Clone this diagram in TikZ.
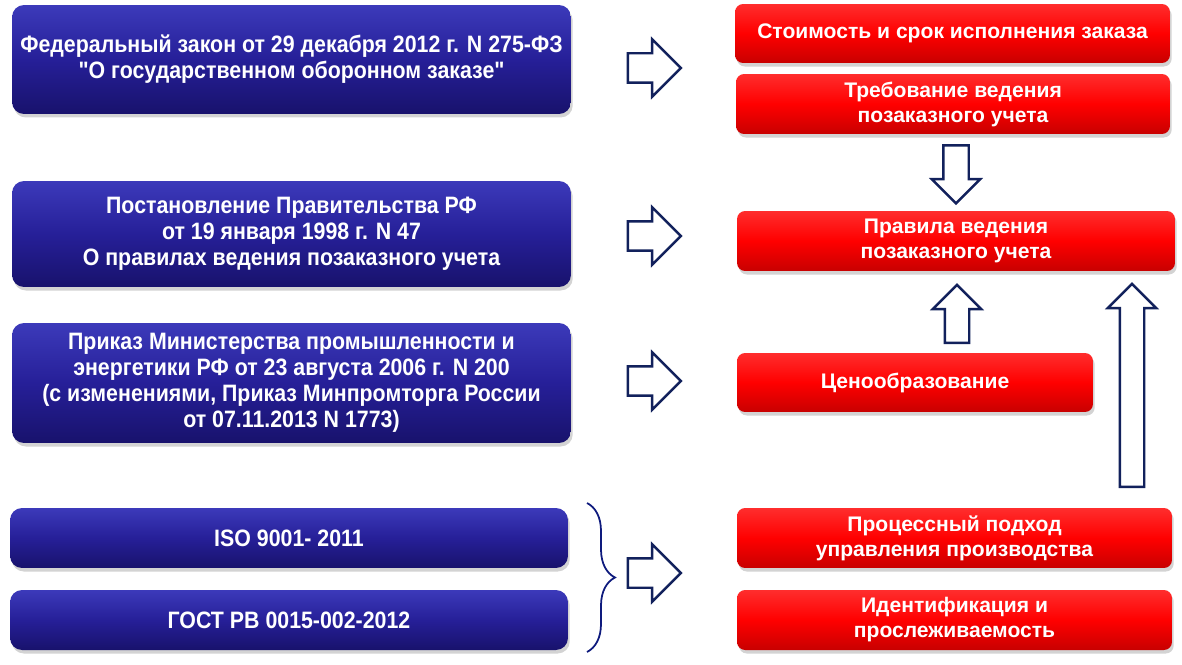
\documentclass[tikz,border=0pt]{standalone}
\usepackage{fontspec}
\setmainfont{Liberation Sans}
\newfontfamily\narrowfont{Liberation Sans}[FakeStretch=0.9]
\usetikzlibrary{shapes.arrows,shadows,decorations.pathreplacing}
\definecolor{navy}{RGB}{18,33,92}
\definecolor{lawtop}{RGB}{60,58,186}
\definecolor{lawmid}{RGB}{38,31,152}
\definecolor{lawbot}{RGB}{24,18,108}
\definecolor{restop}{RGB}{255,45,45}
\definecolor{resbot}{RGB}{200,0,0}
\tikzset{
  lawbox/.style={rounded corners=0.24cm, top color=lawtop, bottom color=lawbot,
    middle color=lawmid, text=white, align=center, inner sep=0pt,
    font=\narrowfont\bfseries\fontsize{13.5}{14.8}\selectfont,
    drop shadow={shadow xshift=1pt, shadow yshift=-2pt, opacity=0.35}},
  resbox/.style={rounded corners=0.16cm, top color=restop, bottom color=resbot,
    middle color=red, text=white, align=center, inner sep=0pt,
    font=\bfseries\fontsize{12}{14.2}\selectfont,
    drop shadow={shadow xshift=1pt, shadow yshift=-2pt, opacity=0.35}},
  fatarrow/.style={single arrow, draw=navy, line width=1.4pt, fill=white,
    inner sep=0pt, single arrow tip angle=90, single arrow head indent=0pt},
  bracestyle/.style={decorate, decoration={brace, amplitude=0.56cm},
    draw=navy!80!blue, line width=1pt}
}

\begin{document}
\begin{tikzpicture}[x=0.02cm, y=-0.02cm]
  \useasboundingbox (0,0) rectangle (1182,665);
  % documents on the left
  \node[lawbox, minimum width=11.18cm, minimum height=2.18cm] (fz) at (291.5,59.5)
    {Федеральный закон от 29 декабря 2012 г. N 275-ФЗ\\"О государственном оборонном заказе"};
  \node[lawbox, minimum width=11.18cm, minimum height=2.12cm] (post) at (291.5,234)
    {Постановление Правительства РФ\\от 19 января 1998 г. N 47\\О правилах ведения позаказного учета};
  \node[lawbox, minimum width=11.18cm, minimum height=2.4cm] (prikaz) at (291.5,383)
    {Приказ Министерства промышленности и\\энергетики РФ от 23 августа 2006 г. N 200\\(с изменениями, Приказ Минпромторга России\\от 07.11.2013 N 1773)};
  \node[lawbox, minimum width=11.16cm, minimum height=1.2cm] (iso) at (289,538)
    {ISO 9001- 2011};
  \node[lawbox, minimum width=11.16cm, minimum height=1.2cm] (gost) at (289,620)
    {ГОСТ РВ 0015-002-2012};
  % results on the right
  \node[resbox, minimum width=8.7cm, minimum height=1.18cm] (cost) at (952.5,33.5)
    {Стоимость и срок исполнения заказа};
  \node[resbox, minimum width=8.68cm, minimum height=1.2cm] (req) at (953,104)
    {Требование ведения\\позаказного учета};
  \node[resbox, minimum width=8.76cm, minimum height=1.2cm] (rules) at (956,241)
    {Правила ведения\\позаказного учета};
  \node[resbox, minimum width=7.12cm, minimum height=1.18cm] (price) at (915,382.5)
    {Ценообразование};
  \node[resbox, minimum width=8.7cm, minimum height=1.2cm] (proc) at (954.5,538)
    {Процессный подход\\управления производства};
  \node[resbox, minimum width=8.7cm, minimum height=1.2cm] (ident) at (954.5,620)
    {Идентификация и\\прослеживаемость};
  % block arrows
  \node[fatarrow, minimum height=1.06cm, inner ysep=0.27cm, single arrow head extend=0.28cm] (a1) at (647,68) {};
  \node[fatarrow, minimum height=1.06cm, inner ysep=0.27cm, single arrow head extend=0.28cm] (a2) at (647,236) {};
  \node[fatarrow, minimum height=1.06cm, inner ysep=0.27cm, single arrow head extend=0.28cm] (a3) at (647,381) {};
  \node[fatarrow, minimum height=1.06cm, inner ysep=0.27cm, single arrow head extend=0.28cm] (a4) at (647,573) {};
  \node[fatarrow, rotate=-90, minimum height=1.16cm, inner ysep=0.23cm, single arrow head extend=0.23cm] (down) at (956,168) {};
  \node[fatarrow, rotate=90, minimum height=1.16cm, inner ysep=0.22cm, single arrow head extend=0.24cm] (up) at (957,320) {};
  \node[fatarrow, rotate=90, minimum height=4.06cm, inner ysep=0.22cm, single arrow head extend=0.24cm] (uplong) at (1132,391.5) {};
  % brace
  \coordinate (bt) at (587,503);
  \coordinate (bb) at (587,652);
  \draw[bracestyle] (bt) -- (bb);
\end{tikzpicture}
\end{document}
